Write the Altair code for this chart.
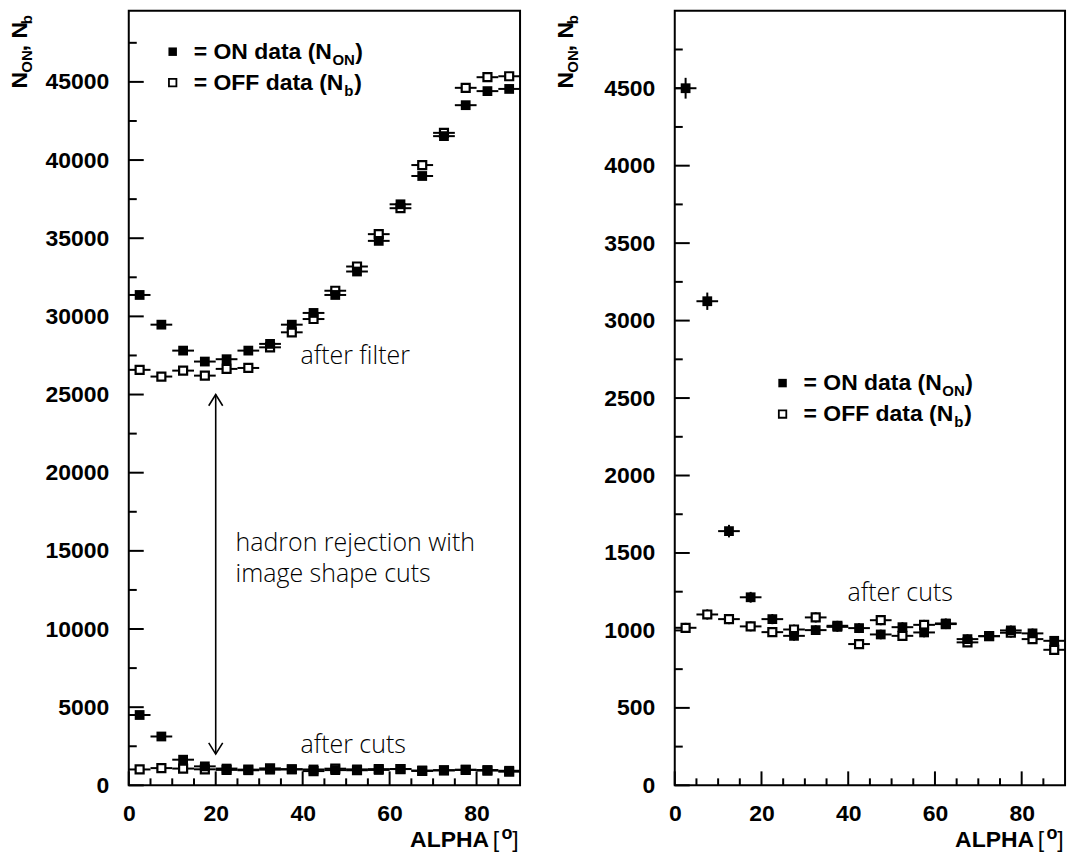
import altair as alt
import pandas as pd

# ---------------- data ----------------
alpha = [2.5, 7.5, 12.5, 17.5, 22.5, 27.5, 32.5, 37.5, 42.5,
         47.5, 52.5, 57.5, 62.5, 67.5, 72.5, 77.5, 82.5, 87.5]
on_filter = [31370, 29470, 27810, 27110, 27260, 27810, 28240, 29470, 30220,
             31370, 32870, 34830, 37170, 38980, 41530, 43510, 44410, 44550]
off_filter = [26580, 26150, 26530, 26210, 26640, 26700, 28020, 28980, 29830,
              31640, 33190, 35260, 36920, 39680, 41740, 44620, 45300, 45360]
on_cuts = [4500, 3125, 1641, 1214, 1073, 965, 1002, 1023, 1015,
           974, 1021, 987, 1045, 944, 963, 1000, 981, 933]
off_cuts = [1017, 1103, 1073, 1026, 989, 1006, 1084, 1030, 912,
            1066, 965, 1036, 1041, 923, 963, 985, 944, 875]
bin_half = 2.5

x_major = [0, 20, 40, 60, 80]
x_minor = [5, 10, 15, 25, 30, 35, 45, 50, 55, 65, 70, 75, 85]
left_y_major = [0, 5000, 10000, 15000, 20000, 25000, 30000, 35000, 40000, 45000]
left_y_minor = [2500, 7500, 12500, 17500, 22500, 27500, 32500, 37500, 42500, 47500]
right_y_major = [0, 500, 1000, 1500, 2000, 2500, 3000, 3500, 4000, 4500]
right_y_minor = [250, 750, 1250, 1750, 2250, 2750, 3250, 3750, 4250, 4750]
left_ymax = 49550
right_ymax = 5000
arrow_alpha = [20]
arrow_top = [25000]
arrow_bottom = [2000]

FONT = "Liberation Sans"
AFONT = "Open Sans"
H = 776
WL = 392
WR = 391


def long_df(on, off):
    rows = [{"alpha": a, "n": n, "series": "ON"} for a, n in zip(alpha, on)]
    rows += [{"alpha": a, "n": n, "series": "OFF"} for a, n in zip(alpha, off)]
    return pd.DataFrame(rows)


def txt(text, x, y, size=23, weight="bold", angle=0, align="left", font=FONT):
    return alt.Chart(pd.DataFrame({"t": [text]})).mark_text(
        font=font, fontSize=size, fontWeight=weight, angle=angle, align=align,
        baseline="alphabetic", color="black"
    ).encode(x=alt.value(x), y=alt.value(y), text="t:N")


def legend_sq(x, y, filled):
    if filled:
        m = alt.Chart(pd.DataFrame({"k": [0]})).mark_square(
            size=72, filled=True, fill="black", stroke="black", strokeWidth=0, opacity=1)
    else:
        m = alt.Chart(pd.DataFrame({"k": [0]})).mark_square(
            size=56, filled=True, fill="white", stroke="black", strokeWidth=1.8, opacity=1)
    return m.encode(x=alt.value(x), y=alt.value(y))


def legend(x0, y0):
    # x0,y0: square centre of ON row
    return [
        legend_sq(x0, y0, True),
        txt("= ON data (N", x0 + 21, y0 + 7),
        txt("ON", x0 + 160, y0 + 13, size=15),
        txt(")", x0 + 183, y0 + 7),
        legend_sq(x0, y0 + 31, False),
        txt("= OFF data (N", x0 + 21, y0 + 38),
        txt("b", x0 + 172, y0 + 44, size=15),
        txt(")", x0 + 182, y0 + 38),
    ]


def titles(W):
    return [
        # y title (rotated)
        txt("N", -101.5, 78, angle=270),
        txt("ON", -96.5, 62, size=15, angle=270),
        txt(", N", -101.5, 40.5, angle=270),
        txt("b", -96.5, 13.5, size=15, angle=270),
        # x title
        txt("ALPHA", W - 31, 838, align="right"),
        txt("[", W - 21, 838, weight="normal", align="right"),
        txt("o", W - 7.5, 830, size=18, align="right"),
        txt("]", W - 1.5, 838, weight="normal", align="right"),
    ]


def panel(df, ymax, y_major, y_minor, W, extra):
    xs = alt.Scale(domain=[0, 90], nice=False, zero=False)
    ys = alt.Scale(domain=[0, ymax], nice=False, zero=False)
    xaxis = alt.Axis(values=x_major, title=None, grid=False, ticks=False, domain=False,
                     labelFont=FONT, labelFontSize=23, labelFontWeight="bold",
                     labelColor="black", labelPadding=17, labelFlush=False,
                     labelOverlap=False, labelBound=False, format="d")
    yaxis = alt.Axis(values=y_major, title=None, grid=False, ticks=False, domain=False,
                     labelFont=FONT, labelFontSize=23, labelFontWeight="bold",
                     labelColor="black", labelPadding=20, labelOverlap=False,
                     labelBound=False, format="d")
    X = lambda f: alt.X(f, scale=xs, axis=xaxis)
    Y = lambda f: alt.Y(f, scale=ys, axis=yaxis)
    base = alt.Chart(df).transform_calculate(
        xlo=f"datum.alpha - {bin_half}",
        xhi=f"datum.alpha + {bin_half}",
        ylo="datum.n - sqrt(datum.n)",
        yhi="datum.n + sqrt(datum.n)",
    )
    hbar = base.mark_rule(color="black", strokeWidth=2).encode(
        x=X("xlo:Q"), x2="xhi:Q", y=Y("n:Q"))
    vbar = base.mark_rule(color="black", strokeWidth=2).encode(
        x=X("alpha:Q"), y=Y("ylo:Q"), y2="yhi:Q")
    off = base.transform_filter("datum.series == 'OFF'").mark_square(
        size=64, filled=True, fill="white", stroke="black", strokeWidth=2.2, opacity=1
    ).encode(x=X("alpha:Q"), y=Y("n:Q"))
    on = base.transform_filter("datum.series == 'ON'").mark_square(
        size=96, filled=True, fill="black", stroke="black", strokeWidth=0, opacity=1
    ).encode(x=X("alpha:Q"), y=Y("n:Q"))

    ty_major = alt.Chart(pd.DataFrame({"v": y_major})).mark_rule(color="black", strokeWidth=2).encode(
        y=Y("v:Q"), x=alt.value(0), x2=alt.value(15))
    ty_minor = alt.Chart(pd.DataFrame({"v": y_minor})).mark_rule(color="black", strokeWidth=2).encode(
        y=Y("v:Q"), x=alt.value(0), x2=alt.value(8))
    tx_major = alt.Chart(pd.DataFrame({"v": x_major})).mark_rule(color="black", strokeWidth=2).encode(
        x=X("v:Q"), y=alt.value(H), y2=alt.value(H - 14))
    tx_minor = alt.Chart(pd.DataFrame({"v": x_minor})).mark_rule(color="black", strokeWidth=2).encode(
        x=X("v:Q"), y=alt.value(H), y2=alt.value(H - 7))

    layers = [hbar, vbar, ty_major, ty_minor, tx_major, tx_minor, off, on]
    layers += [e(X, Y) if callable(e) else e for e in extra]
    return alt.layer(*layers).properties(width=W, height=H)


def arrow(X, Y):
    adf = pd.DataFrame({"alpha": arrow_alpha, "top": arrow_top, "bottom": arrow_bottom})
    shaft = alt.Chart(adf).mark_rule(color="black", strokeWidth=1.6).encode(
        x=X("alpha:Q"), y=Y("bottom:Q"), y2="top:Q")
    up = alt.Chart(adf).mark_point(shape="M-1,1.6L0,0L1,1.6", size=196, filled=False,
                                   color="black", strokeWidth=1.6, opacity=1).encode(
        x=X("alpha:Q"), y=Y("top:Q"))
    down = alt.Chart(adf).mark_point(shape="M-1,-1.6L0,0L1,-1.6", size=196, filled=False,
                                     color="black", strokeWidth=1.6, opacity=1).encode(
        x=X("alpha:Q"), y=Y("bottom:Q"))
    return alt.layer(shaft, up, down)


def anchor(x):
    return alt.Chart(pd.DataFrame({"k": [0]})).mark_rule(color="white", strokeWidth=1, opacity=1).encode(
        x=alt.value(x), y=alt.value(-8.5), y2=alt.value(H + 68.5))


left_df = pd.concat([long_df(on_filter, off_filter), long_df(on_cuts, off_cuts)], ignore_index=True)
right_df = long_df(on_cuts, off_cuts)

ASIZE = 25
left_extra = [anchor(-127.5), arrow] + legend(44, 41) + titles(WL) + [
    txt("after filter", 172, 354, size=ASIZE, weight=300, font=AFONT),
    txt("hadron rejection with", 107, 541, size=ASIZE, weight=300, font=AFONT),
    txt("image shape cuts", 107, 572, size=ASIZE, weight=300, font=AFONT),
    txt("after cuts", 172, 744, size=ASIZE, weight=300, font=AFONT),
]
right_extra = [anchor(WR + 24.5)] + legend(108, 373) + titles(WR) + [
    txt("after cuts", 173, 591, size=ASIZE, weight=300, font=AFONT),
]

left = panel(left_df, left_ymax, left_y_major, left_y_minor, WL, left_extra)
right = panel(right_df, right_ymax, right_y_major, right_y_minor, WR, right_extra)

chart = alt.hconcat(left, right, spacing=155, bounds="flush").properties(
    padding=0, background="white"
).configure_view(stroke="black", strokeWidth=2)

chart.save("out.html", embed_options={"renderer": "svg", "actions": False})
